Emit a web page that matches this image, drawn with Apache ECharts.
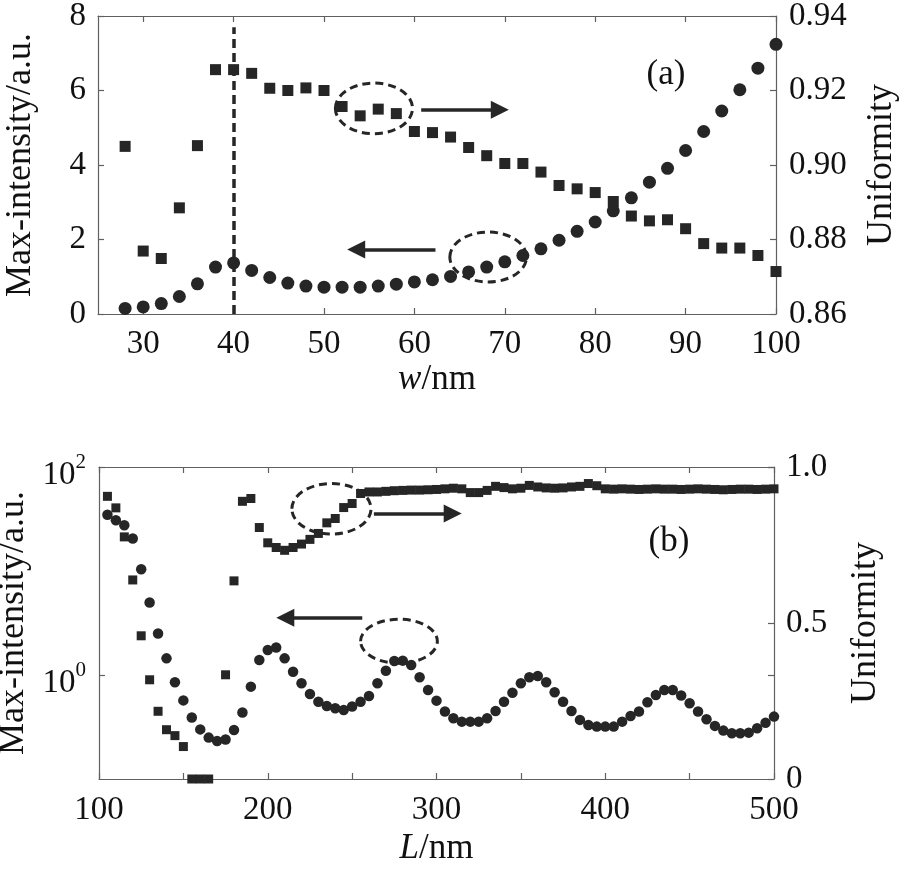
<!DOCTYPE html>
<html><head><meta charset="utf-8">
<script src="https://cdn.jsdelivr.net/npm/echarts@6/dist/echarts.min.js"></script>
<style>html,body{margin:0;padding:0;background:#fff}#c{width:899px;height:869px}</style>
</head><body><div id="c"></div>
<script>
// ---------- panel (a) data ----------
const wCat = [28,30,32,34,36,38,40,42,44,46,48,50,52,54,56,58,60,62,64,66,68,70,72,74,76,78,80,82,84,86,88,90,92,94,96,98,100];
const aIntensity = [0.15,0.19,0.28,0.47,0.81,1.26,1.37,1.17,0.98,0.83,0.75,0.72,0.72,0.72,0.75,0.80,0.86,0.92,1.01,1.13,1.26,1.40,1.57,1.75,1.98,2.22,2.47,2.77,3.12,3.54,3.91,4.39,4.90,5.45,6.02,6.60,7.24];
const aUniformity = [0.9050,0.8769,0.8749,0.8885,0.9052,0.9256,0.9256,0.9246,0.9206,0.9200,0.9207,0.9200,0.9157,0.9132,0.9150,0.9138,0.9090,0.9087,0.9075,0.9047,0.9025,0.9004,0.9004,0.8981,0.8945,0.8936,0.8926,0.8902,0.8863,0.8850,0.8853,0.8829,0.8789,0.8777,0.8777,0.8757,0.8714];
const xTicksA = [30,40,50,60,70,80,90,100];

// ---------- panel (b) data ----------
const lCat = [105,110,115,120,125,130,135,140,145,150,155,160,165,170,175,180,185,190,195,200,205,210,215,220,225,230,235,240,245,250,255,260,265,270,275,280,285,290,295,300,305,310,315,320,325,330,335,340,345,350,355,360,365,370,375,380,385,390,395,400,405,410,415,420,425,430,435,440,445,450,455,460,465,470,475,480,485,490,495,500];
const bIntensity = [34.8,30.8,27.5,20.5,10.4,4.98,2.51,1.445,0.851,0.57,0.39,0.30,0.25,0.232,0.24,0.296,0.436,0.773,1.393,1.738,1.84,1.445,1.076,0.832,0.657,0.554,0.504,0.479,0.461,0.497,0.554,0.629,0.832,1.10,1.362,1.374,1.247,0.95,0.718,0.567,0.445,0.384,0.356,0.356,0.356,0.384,0.451,0.554,0.676,0.832,0.95,0.978,0.851,0.682,0.554,0.451,0.37,0.331,0.319,0.319,0.319,0.356,0.404,0.445,0.547,0.643,0.718,0.718,0.634,0.535,0.445,0.375,0.324,0.292,0.275,0.275,0.279,0.308,0.348,0.398];
const bUniformity = [0.906,0.869,0.776,0.638,0.459,0.318,0.217,0.158,0.139,0.104,0,0,0,null,0.334,0.635,0.890,0.899,0.806,0.757,0.742,0.733,0.742,0.753,0.768,0.787,0.821,0.835,0.870,0.883,0.915,0.920,0.920,0.922,0.924,0.925,0.926,0.926,0.927,0.928,0.930,0.932,0.930,0.918,0.918,0.925,0.938,0.934,0.930,0.932,0.941,0.936,0.933,0.932,0.933,0.936,0.938,0.947,0.940,0.930,0.929,0.930,0.929,0.928,0.929,0.930,0.929,0.929,0.928,0.929,0.930,0.929,0.928,0.927,0.928,0.929,0.929,0.928,0.929,0.930];
const xTicksB = [100,150,200,250,300,350,400,450,500];
const xLabelsB = [100,200,300,400,500];
const logTicksB = [1,100];

const FONT = 'Liberation Serif';
const INK = '#262626';
const AX = '#606060';

const zip = (xs, ys) => xs.map((x, i) => [x, ys[i]]);

function baseAxis(o) {
  return Object.assign({
    axisLine: {show: true, onZero: false, lineStyle: {color: AX, width: 1.2}},
    axisTick: {show: true, inside: true, length: 6, lineStyle: {color: AX, width: 1.2}},
    splitLine: {show: false},
    axisLabel: {color: '#111', fontFamily: FONT, fontSize: 33, margin: 12},
    nameTextStyle: {color: '#111', fontFamily: FONT, fontSize: 36},
    nameLocation: 'middle'
  }, o);
}
const arrowLine = {
  silent: true, animation: false,
  symbol: ['none', 'triangle'], symbolSize: 18,
  label: {show: false},
  lineStyle: {color: INK, width: 3.5, type: 'solid', opacity: 1},
  emphasis: {disabled: true}
};
const dot = {color: INK, opacity: 1};

const option = {
  animation: false,
  backgroundColor: '#fff',
  grid: [
    {left: 98, top: 16, width: 678, height: 298, containLabel: false, outerBoundsMode: 'none'},
    {left: 99, top: 467, width: 675, height: 312, containLabel: false, outerBoundsMode: 'none'}
  ],
  xAxis: [
    baseAxis({gridIndex: 0, type: 'value', position: 'bottom', min: 25, max: 100,
      axisTick: {show: true, inside: true, length: 6, customValues: xTicksA, lineStyle: {color: AX, width: 1.2}},
      axisLabel: {color: '#111', fontFamily: FONT, fontSize: 33, margin: 14, customValues: xTicksA},
      name: '{i|w}/nm', nameGap: 44,
      nameTextStyle: {color: '#111', fontFamily: FONT, fontSize: 35, rich: {i: {fontStyle: 'italic', fontFamily: FONT, fontSize: 35, color: '#111'}}}}),
    baseAxis({gridIndex: 0, type: 'value', position: 'top', min: 25, max: 100,
      axisTick: {show: true, inside: true, length: 6, customValues: xTicksA, lineStyle: {color: AX, width: 1.2}},
      axisLabel: {show: false}}),
    baseAxis({gridIndex: 1, type: 'value', position: 'bottom', min: 100, max: 500,
      axisTick: {show: true, inside: true, length: 6, customValues: xTicksB, lineStyle: {color: AX, width: 1.2}},
      axisLabel: {color: '#111', fontFamily: FONT, fontSize: 33, margin: 15, customValues: xLabelsB},
      name: '{i|L}/nm', nameGap: 52,
      nameTextStyle: {color: '#111', fontFamily: FONT, fontSize: 35, rich: {i: {fontStyle: 'italic', fontFamily: FONT, fontSize: 35, color: '#111'}}}}),
    baseAxis({gridIndex: 1, type: 'value', position: 'top', min: 100, max: 500,
      axisTick: {show: true, inside: true, length: 6, customValues: xTicksB, lineStyle: {color: AX, width: 1.2}},
      axisLabel: {show: false}})
  ],
  yAxis: [
    baseAxis({gridIndex: 0, type: 'value', position: 'left', min: 0, max: 8, interval: 2,
      name: 'Max-intensity/a.u.', nameGap: 59, nameRotate: 90}),
    baseAxis({gridIndex: 0, type: 'value', position: 'right', min: 0.86, max: 0.94, interval: 0.02,
      axisLabel: {color: '#111', fontFamily: FONT, fontSize: 33, margin: 13, formatter: v => v.toFixed(2)},
      name: 'Uniformity', nameGap: 88, nameRotate: 90}),
    baseAxis({gridIndex: 1, type: 'log', logBase: 10, position: 'left', min: 0.1, max: 100,
      axisTick: {show: true, inside: true, length: 6, customValues: logTicksB, lineStyle: {color: AX, width: 1.2}},
      axisLabel: {customValues: logTicksB, margin: 13, padding: [10, 0, 0, 0],
        formatter: v => '{b|10}{s|' + Math.round(Math.log10(v)) + '}',
        rich: {b: {fontFamily: FONT, fontSize: 33, color: '#111', lineHeight: 40, verticalAlign: 'bottom'},
               s: {fontFamily: FONT, fontSize: 21, color: '#111', lineHeight: 22, verticalAlign: 'top'}}},
      name: 'Max-intensity/a.u.', nameGap: 60, nameRotate: 90}),
    baseAxis({gridIndex: 1, type: 'value', position: 'right', min: 0, max: 1, interval: 0.5,
      axisLabel: {color: '#111', fontFamily: FONT, fontSize: 33, margin: 12, formatter: v => v === 0 ? '0' : v.toFixed(1)},
      name: 'Uniformity', nameGap: 74, nameRotate: 90}),
    baseAxis({gridIndex: 1, type: 'log', logBase: 10, position: 'right', min: 0.1, max: 100,
      axisLine: {show: false},
      axisTick: {show: true, inside: true, length: 6, customValues: logTicksB, lineStyle: {color: AX, width: 1.2}},
      axisLabel: {show: false}})
  ],
  series: [
    {type: 'scatter', xAxisIndex: 0, yAxisIndex: 0, symbol: 'circle', symbolSize: 13,
      itemStyle: dot, data: zip(wCat, aIntensity), silent: true,
      markLine: Object.assign({}, arrowLine, {
        data: [
          [{coord: [40, 0], symbol: 'none', lineStyle: {type: [9, 5], width: 3.5, color: INK}}, {coord: [40, 7.7], symbol: 'none'}],
          [{coord: [62.33, 1.73]}, {coord: [53.56, 1.73]}]
        ]})},
    {type: 'scatter', xAxisIndex: 0, yAxisIndex: 1, symbol: 'rect', symbolSize: 11,
      itemStyle: dot, data: zip(wCat, aUniformity), silent: true,
      markLine: Object.assign({}, arrowLine, {
        data: [[{coord: [60.75, 0.9148]}, {coord: [69.45, 0.9148]}]]})},
    {type: 'scatter', xAxisIndex: 2, yAxisIndex: 2, symbol: 'circle', symbolSize: 10.5,
      itemStyle: dot, data: zip(lCat, bIntensity), silent: true},
    {type: 'scatter', xAxisIndex: 2, yAxisIndex: 3, symbol: 'rect', symbolSize: 9,
      itemStyle: dot, data: zip(lCat, bUniformity).filter(p => p[1] !== null), silent: true,
      markLine: Object.assign({}, arrowLine, {
        data: [
          [{coord: [262.9, 0.851]}, {coord: [309.6, 0.851]}],
          [{coord: [256.0, 0.517]}, {coord: [210.4, 0.517]}]
        ]})}
  ]
};

const chart = echarts.init(document.getElementById('c'), null, {renderer: 'canvas'});
chart.setOption(option);

// annotation ellipses given as data-space boxes [xmin, xmax, ymin, ymax]
const ellipses = [
  {series: 0, box: [51.26, 59.79, 4.84, 6.20]},
  {series: 0, box: [63.92, 72.40, 0.86, 2.20]},
  {series: 3, box: [214.3, 261.2, 0.785, 0.947]},
  {series: 3, box: [255.0, 300.5, 0.371, 0.512]}
];
const gfx = ellipses.map(e => {
  const p1 = chart.convertToPixel({seriesIndex: e.series}, [e.box[0], e.box[2]]);
  const p2 = chart.convertToPixel({seriesIndex: e.series}, [e.box[1], e.box[3]]);
  return {type: 'ellipse', silent: true, z: 10,
    shape: {cx: (p1[0] + p2[0]) / 2, cy: (p1[1] + p2[1]) / 2, rx: Math.abs(p2[0] - p1[0]) / 2, ry: Math.abs(p2[1] - p1[1]) / 2},
    style: {fill: null, stroke: INK, lineWidth: 3, lineDash: [8, 5]}};
});
gfx.push({type: 'text', x: 666, y: 75, silent: true, style: {text: '(a)', fontFamily: FONT, fontSize: 35, fill: '#111', align: 'center', verticalAlign: 'middle'}});
gfx.push({type: 'text', x: 669, y: 542, silent: true, style: {text: '(b)', fontFamily: FONT, fontSize: 35, fill: '#111', align: 'center', verticalAlign: 'middle'}});
chart.setOption({graphic: gfx});
</script>
</body></html>
